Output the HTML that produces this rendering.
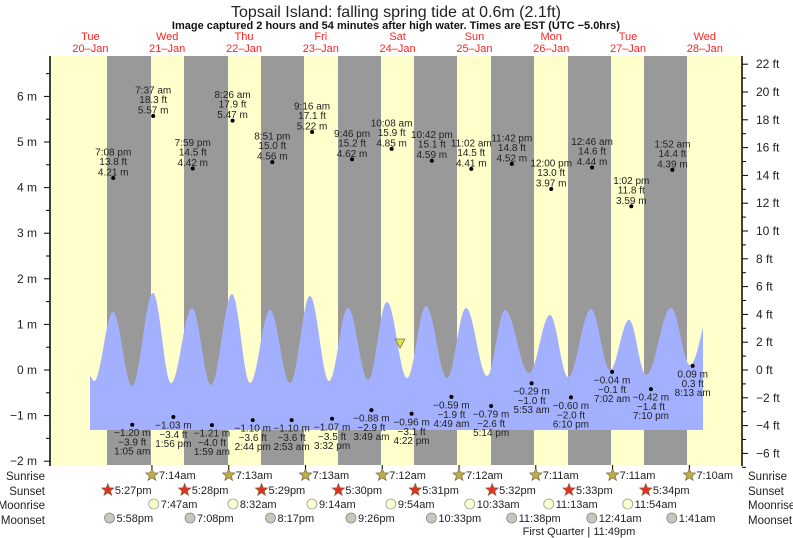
<!DOCTYPE html>
<html><head><meta charset="utf-8"><style>
body{margin:0;background:#fff;}
svg{display:block;font-family:"Liberation Sans",sans-serif;}
</style></head><body>
<svg id="s" width="793" height="538" xmlns="http://www.w3.org/2000/svg">
<text x="396" y="17" font-size="16" text-anchor="middle" fill="#222">Topsail Island: falling  spring tide at 0.6m (2.1ft)</text>
<text x="396" y="29" font-size="11" font-weight="bold" text-anchor="middle" fill="#111">Image captured 2 hours and 54 minutes after high water. Times are EST (UTC −5.0hrs)</text>
<g id="g"></g>
</svg>
<script>
const g=document.getElementById('g');
let h='';
const X=(d,hr)=>52+(d-20)*76.8+hr*3.2, Y=m=>370-m*45.6;
h+='<rect x="50" y="56" width="692" height="409" fill="#ffffcc"/>';
[[107,151],[184,228],[261,304],[338,381],[414,457],[491,534],[568,611],[644,687]].forEach(b=>h+=`<rect x="${b[0]}" y="56" width="${b[1]-b[0]}" height="409" fill="#999"/>`);
const days=[['Tue','20'],['Wed','21'],['Thu','22'],['Fri','23'],['Sat','24'],['Sun','25'],['Mon','26'],['Tue','27'],['Wed','28']];
days.forEach((d,i)=>{const x=X(20+i,12);h+=`<text x="${x}" y="40" font-size="11" fill="#f22" text-anchor="middle">${d[0]}</text><text x="${x}" y="52" font-size="11" fill="#f22" text-anchor="middle">${d[1]}–Jan</text>`;});
const P=[[90,376],[94,381],[113,312],[132,386],[153,293],[171,383],[192,308],[211,385],[232,294],[250,383],[270,310],[290,383],[310,296],[329,381],[348,308],[368,380],[387,302],[407,378],[426,306],[447,378],[466,308],[487,376],[505,310],[529,373],[550,315],[568,377],[591,309],[610,370],[629,320],[646,375],[671,308],[690,365],[712,306]];
let pts=[[90,430]];
for(let i=0;i<P.length-1;i++){const a=P[i],b=P[i+1];for(let x=a[0];x<b[0];x+=0.5){if(x>703)break;const t=(x-a[0])/(b[0]-a[0]);pts.push([x,a[1]+(b[1]-a[1])*(1-Math.cos(Math.PI*t))/2]);}}
pts.push([703,pts[pts.length-1][1]]);pts.push([703,430]);
h+=`<polygon fill="#a3b0ff" points="${pts.map(p=>p[0].toFixed(1)+','+p[1].toFixed(1)).join(' ')}"/>`;
h+='<line x1="50" y1="56" x2="50" y2="466" stroke="#000" stroke-width="1.5"/><line x1="742" y1="56" x2="742" y2="466" stroke="#000" stroke-width="1.5"/>';
for(let m=-2;m<=6.5;m+=0.5){const y=Y(m);const maj=Number.isInteger(m);h+=`<line x1="${maj?44:46}" x2="50" y1="${y}" y2="${y}" stroke="#000"/>`;if(maj)h+=`<text x="37" y="${y+4}" font-size="12" text-anchor="end" fill="#222">${m<0?'−'+(-m):m} m</text>`;}
for(let f=-7;f<=22;f++){const y=370-f*13.9;if(y<56)continue;const maj=f%2==0;h+=`<line x1="742" x2="${maj?748:746}" y1="${y}" y2="${y}" stroke="#000"/>`;if(maj)h+=`<text x="756" y="${y+4}" font-size="12" fill="#222">${f<0?'−'+(-f):f} ft</text>`;}
const H=[[20,'7:08 pm',19.13,'13.8','4.21'],[21,'7:37 am',7.62,'18.3','5.57'],[21,'7:59 pm',19.98,'14.5','4.42'],[22,'8:26 am',8.43,'17.9','5.47'],[22,'8:51 pm',20.85,'15.0','4.56'],[23,'9:16 am',9.27,'17.1','5.22'],[23,'9:46 pm',21.77,'15.2','4.62'],[24,'10:08 am',10.13,'15.9','4.85'],[24,'10:42 pm',22.7,'15.1','4.59'],[25,'11:02 am',11.03,'14.5','4.41'],[25,'11:42 pm',23.7,'14.8','4.52'],[26,'12:00 pm',12,'13.0','3.97'],[27,'12:46 am',0.77,'14.6','4.44'],[27,'1:02 pm',13.03,'11.8','3.59'],[28,'1:52 am',1.87,'14.4','4.39']];
H.forEach(a=>{const x=X(a[0],a[2]),y=Y(+a[4]);h+=`<circle cx="${x}" cy="${y}" r="2" fill="#000"/><g font-size="10" fill="#222" text-anchor="middle"><text x="${x}" y="${y-22.5}">${a[1]}</text><text x="${x}" y="${y-13}">${a[3]} ft</text><text x="${x}" y="${y-2.5}">${a[4]} m</text></g>`;});
const L=[[21,'1:05 am',1.08,'−3.9','−1.20',-1.2],[21,'1:56 pm',13.93,'−3.4','−1.03',-1.03],[22,'1:59 am',1.98,'−4.0','−1.21',-1.21],[22,'2:44 pm',14.73,'−3.6','−1.10',-1.1],[23,'2:53 am',2.88,'−3.6','−1.10',-1.1],[23,'3:32 pm',15.53,'−3.5','−1.07',-1.07],[24,'3:49 am',3.82,'−2.9','−0.88',-0.88],[24,'4:22 pm',16.37,'−3.1','−0.96',-0.96],[25,'4:49 am',4.82,'−1.9','−0.59',-0.59],[25,'5:14 pm',17.23,'−2.6','−0.79',-0.79],[26,'5:53 am',5.88,'−1.0','−0.29',-0.29],[26,'6:10 pm',18.17,'−2.0','−0.60',-0.6],[27,'7:02 am',7.03,'−0.1','−0.04',-0.04],[27,'7:10 pm',19.17,'−1.4','−0.42',-0.42],[28,'8:13 am',8.22,'0.3','0.09',0.09]];
L.forEach(a=>{const x=X(a[0],a[2]),y=Y(a[5]);h+=`<circle cx="${x}" cy="${y}" r="2" fill="#000"/><g font-size="10" fill="#222" text-anchor="middle"><text x="${x}" y="${y+11.5}">${a[4]} m</text><text x="${x}" y="${y+21}">${a[3]} ft</text><text x="${x}" y="${y+30}">${a[1]}</text></g>`;});
h+='<polygon points="395,339 405,339 400,348" fill="#e8e040" stroke="#776" stroke-width="0.8"/>';
const rows=[['Sunrise',476],['Sunset',491],['Moonrise',505],['Moonset',520]];
rows.forEach(r=>{h+=`<text x="45" y="${r[1]+4}" font-size="11.5" text-anchor="end" fill="#222">${r[0]}</text><text x="748" y="${r[1]+4}" font-size="11.5" fill="#222">${r[0]}</text>`;});
function star(x,y,c){let p=[];for(let i=0;i<10;i++){const r=i%2?2.8:6.5,a=-Math.PI/2+i*Math.PI/5;p.push((x+r*Math.cos(a)).toFixed(1)+','+(y+r*Math.sin(a)).toFixed(1));}return `<polygon points="${p.join(' ')}" fill="${c}" stroke="#864" stroke-width="0.7"/>`;}
const sr=[[21,'7:14am'],[22,'7:13am'],[23,'7:13am'],[24,'7:12am'],[25,'7:12am'],[26,'7:11am'],[27,'7:11am'],[28,'7:10am']];
const ss=[[20,'5:27pm'],[21,'5:28pm'],[22,'5:29pm'],[23,'5:30pm'],[24,'5:31pm'],[25,'5:32pm'],[26,'5:33pm'],[27,'5:34pm']];
const mr=[[21,'7:47am'],[22,'8:32am'],[23,'9:14am'],[24,'9:54am'],[25,'10:33am'],[26,'11:13am'],[27,'11:54am']];
const ms=[[20,'5:58pm'],[21,'7:08pm'],[22,'8:17pm'],[23,'9:26pm'],[24,'10:33pm'],[25,'11:38pm'],[27,'12:41am'],[28,'1:41am']];
function hr(t){let [a,b]=t.slice(0,-2).split(':').map(Number);const pm=t.endsWith('pm');if(a==12)a=0;return a+(pm?12:0)+b/60;}
sr.forEach(a=>{const x=X(a[0],hr(a[1]));h+=star(x,475,'#b8b040')+`<text x="${x+7}" y="479" font-size="11" fill="#222">${a[1]}</text><line x1="${x}" x2="${x}" y1="465" y2="469" stroke="#000"/>`;});
ss.forEach(a=>{const x=X(a[0],hr(a[1]));h+=star(x,490,'#dd3322')+`<text x="${x+7}" y="494" font-size="11" fill="#222">${a[1]}</text>`;});
mr.forEach(a=>{const x=X(a[0],hr(a[1]));h+=`<circle cx="${x}" cy="504" r="5" fill="#ffffcc" stroke="#999" stroke-width="0.8"/><text x="${x+7}" y="508" font-size="11" fill="#222">${a[1]}</text>`;});
ms.forEach(a=>{const x=X(a[0],hr(a[1]));h+=`<circle cx="${x}" cy="518" r="5" fill="#c8c8b8" stroke="#888" stroke-width="0.8"/><text x="${x+7}" y="522" font-size="11" fill="#222">${a[1]}</text>`;});
h+='<text x="579" y="535" font-size="11" text-anchor="middle" fill="#222">First Quarter | 11:49pm</text>';
g.innerHTML=h;
</script>
</body></html>
